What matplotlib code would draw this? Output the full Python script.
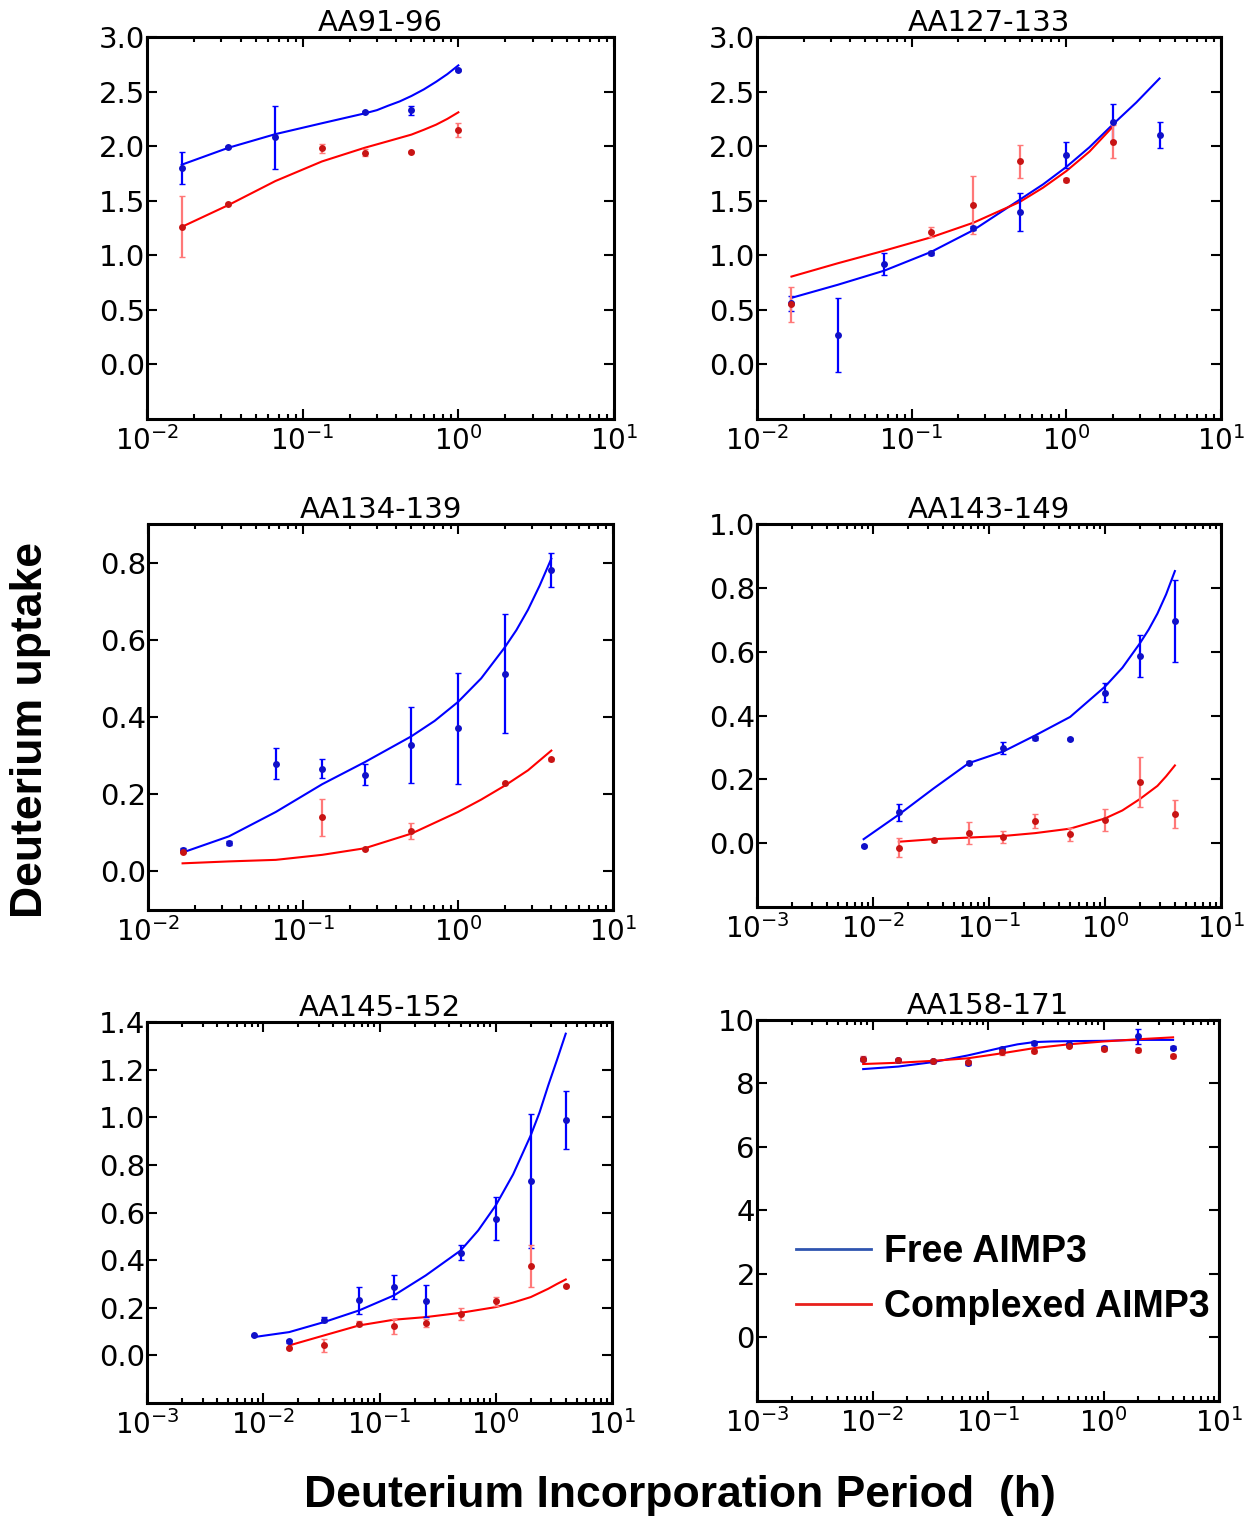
import matplotlib.pyplot as plt
from matplotlib.lines import Line2D

nan = float('nan')

# deuterium incorporation times (h): 0.5, 1, 2, 4, 8, 15, 30 min, 1, 2, 4 h
times = [0.0083, 0.0167, 0.0333, 0.0667, 0.133, 0.25, 0.5, 1.0, 2.0, 4.0]

# AA91-96
free_91 = [nan, 1.80, 1.99, 2.08, nan, 2.31, 2.33, 2.70, nan, nan]
free_91_err = [nan, 0.15, 0.01, 0.29, nan, 0.01, 0.04, 0.01, nan, nan]
cplx_91 = [nan, 1.26, 1.47, nan, 1.98, 1.94, 1.95, 2.15, nan, nan]
cplx_91_err = [nan, 0.28, 0.01, nan, 0.04, 0.03, 0.01, 0.065, nan, nan]
fit_t_free_91 = [0.0167, 0.0333, 0.0667, 0.133, 0.25, 0.30, 0.353, 0.42, 0.5, 0.6, 0.72, 0.85, 1.0]
fit_free_91 = [1.83, 1.985, 2.11, 2.21, 2.30, 2.33, 2.37, 2.41, 2.46, 2.52, 2.59, 2.66, 2.74]
fit_t_cplx_91 = [0.0167, 0.0333, 0.0667, 0.133, 0.25, 0.353, 0.5, 0.6, 0.72, 0.85, 1.0]
fit_cplx_91 = [1.26, 1.46, 1.68, 1.86, 1.985, 2.045, 2.106, 2.15, 2.197, 2.25, 2.31]

# AA127-133
free_127 = [nan, 0.56, 0.27, 0.92, 1.02, 1.25, 1.40, 1.92, 2.22, 2.10]
free_127_err = [nan, 0.07, 0.34, 0.10, 0.02, 0.02, 0.175, 0.12, 0.17, 0.12]
cplx_127 = [nan, 0.55, nan, nan, 1.21, 1.46, 1.86, 1.69, 2.04, nan]
cplx_127_err = [nan, 0.16, nan, nan, 0.045, 0.265, 0.155, 0.02, 0.15, nan]
fit_t_free_127 = [0.0167, 0.0333, 0.0667, 0.133, 0.25, 0.5, 0.707, 1.0, 1.41, 2.0, 2.83, 4.0]
fit_free_127 = [0.61, 0.73, 0.86, 1.03, 1.23, 1.51, 1.65, 1.81, 1.99, 2.20, 2.40, 2.62]
fit_t_cplx_127 = [0.0167, 0.0333, 0.0667, 0.133, 0.25, 0.5, 0.707, 1.0, 1.41, 2.0]
fit_cplx_127 = [0.805, 0.927, 1.043, 1.164, 1.298, 1.489, 1.62, 1.772, 1.95, 2.18]

# AA134-139
free_134 = [nan, 0.055, 0.074, 0.279, 0.266, 0.251, 0.327, 0.371, 0.512, 0.780]
free_134_err = [nan, 0.005, 0.005, 0.04, 0.025, 0.027, 0.099, 0.144, 0.154, 0.044]
cplx_134 = [nan, 0.051, nan, nan, 0.14, 0.058, 0.105, nan, 0.229, 0.29]
cplx_134_err = [nan, 0.003, nan, nan, 0.048, 0.003, 0.021, nan, 0.003, 0.003]
fit_t_free_134 = [0.0167, 0.0333, 0.0667, 0.133, 0.25, 0.5, 0.707, 1.0, 1.41, 2.0, 2.38, 2.83, 3.36, 4.0]
fit_free_134 = [0.049, 0.091, 0.154, 0.226, 0.283, 0.35, 0.39, 0.439, 0.50, 0.58, 0.625, 0.678, 0.74, 0.81]
fit_t_cplx_134 = [0.0167, 0.0333, 0.0667, 0.133, 0.25, 0.5, 1.0, 1.41, 2.0, 2.83, 4.0]
fit_cplx_134 = [0.021, 0.026, 0.030, 0.043, 0.06, 0.098, 0.154, 0.186, 0.222, 0.262, 0.313]

# AA143-149
free_143 = [-0.008, 0.097, nan, 0.252, 0.299, 0.33, 0.328, 0.472, 0.587, 0.697]
free_143_err = [0.003, 0.026, nan, 0.005, 0.02, 0.005, 0.003, 0.03, 0.067, 0.128]
cplx_143 = [nan, -0.014, 0.009, 0.032, 0.02, 0.07, 0.028, 0.074, 0.191, 0.093]
cplx_143_err = [nan, 0.03, 0.004, 0.035, 0.018, 0.021, 0.021, 0.034, 0.078, 0.044]
fit_t_free_143 = [0.0083, 0.0167, 0.0333, 0.0667, 0.133, 0.25, 0.5, 1.0, 1.41, 2.0, 2.38, 2.83, 3.36, 4.0]
fit_free_143 = [0.013, 0.09, 0.172, 0.251, 0.288, 0.338, 0.396, 0.491, 0.55, 0.627, 0.67, 0.72, 0.78, 0.853]
fit_t_cplx_143 = [0.0167, 0.0333, 0.0667, 0.133, 0.25, 0.5, 1.0, 1.41, 2.0, 2.83, 3.36, 4.0]
fit_cplx_143 = [0.005, 0.013, 0.018, 0.023, 0.032, 0.046, 0.078, 0.103, 0.139, 0.18, 0.21, 0.244]

# AA145-152
free_145 = [0.084, 0.059, 0.15, 0.231, 0.287, 0.228, 0.431, 0.574, 0.732, 0.987]
free_145_err = [0.003, 0.005, 0.01, 0.058, 0.051, 0.068, 0.032, 0.091, 0.28, 0.122]
cplx_145 = [nan, 0.032, 0.042, 0.133, 0.123, 0.137, 0.175, 0.227, 0.374, 0.29]
cplx_145_err = [nan, 0.004, 0.028, 0.01, 0.032, 0.018, 0.025, 0.018, 0.088, 0.004]
fit_t_free_145 = [0.0083, 0.0167, 0.0333, 0.0667, 0.133, 0.25, 0.5, 0.707, 1.0, 1.41, 2.0, 2.38, 2.83, 3.36, 4.0]
fit_free_145 = [0.077, 0.098, 0.14, 0.189, 0.252, 0.336, 0.441, 0.525, 0.63, 0.76, 0.924, 1.02, 1.134, 1.24, 1.351]
fit_t_cplx_145 = [0.0167, 0.0333, 0.0667, 0.133, 0.25, 0.5, 1.0, 1.41, 2.0, 2.83, 3.36, 4.0]
fit_cplx_145 = [0.042, 0.084, 0.126, 0.15, 0.161, 0.179, 0.203, 0.222, 0.245, 0.28, 0.30, 0.319]

# AA158-171
free_158 = [8.76, 8.73, 8.69, 8.64, 9.08, 9.27, 9.23, 9.13, 9.48, 9.13]
free_158_err = [0.05, 0.05, 0.05, 0.05, 0.08, 0.05, 0.05, 0.05, 0.24, 0.05]
cplx_158 = [8.77, 8.73, 8.70, 8.67, 8.98, 9.02, 9.19, 9.08, 9.05, 8.86]
cplx_158_err = [0.08, 0.05, 0.05, 0.05, 0.10, 0.05, 0.05, 0.05, 0.05, 0.05]
fit_t_free_158 = [0.0083, 0.0167, 0.0333, 0.0667, 0.133, 0.18, 0.25, 0.35, 0.5, 1.0, 2.0, 4.0]
fit_free_158 = [8.45, 8.53, 8.67, 8.88, 9.13, 9.23, 9.30, 9.32, 9.33, 9.34, 9.37, 9.37]
fit_t_cplx_158 = [0.0083, 0.0167, 0.0333, 0.0667, 0.133, 0.25, 0.5, 1.0, 2.0, 4.0]
fit_cplx_158 = [8.61, 8.65, 8.71, 8.79, 8.95, 9.11, 9.23, 9.32, 9.39, 9.45]

titles = ['AA91-96', 'AA127-133', 'AA134-139', 'AA143-149', 'AA145-152', 'AA158-171']
yticks_all = [
    [0.0, 0.5, 1.0, 1.5, 2.0, 2.5, 3.0],
    [0.0, 0.5, 1.0, 1.5, 2.0, 2.5, 3.0],
    [0.0, 0.2, 0.4, 0.6, 0.8],
    [0.0, 0.2, 0.4, 0.6, 0.8, 1.0],
    [0.0, 0.2, 0.4, 0.6, 0.8, 1.0, 1.2, 1.4],
    [0, 2, 4, 6, 8, 10],
]
ylims = [(-0.5, 3.0), (-0.5, 3.0), (-0.1, 0.9), (-0.2, 1.0), (-0.2, 1.4), (-2, 10)]
xlims = [(1e-2, 1e1), (1e-2, 1e1), (1e-2, 1e1), (1e-3, 1e1), (1e-3, 1e1), (1e-3, 1e1)]

panels = [
    (free_91, free_91_err, cplx_91, cplx_91_err, fit_t_free_91, fit_free_91, fit_t_cplx_91, fit_cplx_91),
    (free_127, free_127_err, cplx_127, cplx_127_err, fit_t_free_127, fit_free_127, fit_t_cplx_127, fit_cplx_127),
    (free_134, free_134_err, cplx_134, cplx_134_err, fit_t_free_134, fit_free_134, fit_t_cplx_134, fit_cplx_134),
    (free_143, free_143_err, cplx_143, cplx_143_err, fit_t_free_143, fit_free_143, fit_t_cplx_143, fit_cplx_143),
    (free_145, free_145_err, cplx_145, cplx_145_err, fit_t_free_145, fit_free_145, fit_t_cplx_145, fit_cplx_145),
    (free_158, free_158_err, cplx_158, cplx_158_err, fit_t_free_158, fit_free_158, fit_t_cplx_158, fit_cplx_158),
]

# axes rectangles in figure fractions (left, bottom, width, height)
rects = [
    (0.1167, 0.7238, 0.3706, 0.2518), (0.6008, 0.7238, 0.3683, 0.2518),
    (0.1175, 0.4001, 0.3690, 0.2545), (0.6008, 0.4020, 0.3683, 0.2525),
    (0.1167, 0.0751, 0.3690, 0.2512), (0.6008, 0.0765, 0.3667, 0.2512),
]

BLUE = '#0000ff'
RED = '#ff0000'


def drawPanel(ax, data, title, yticks, ylim, xlim):
    free, free_err, cplx, cplx_err, ft_free, f_free, ft_cplx, f_cplx = data
    ax.set_xscale('log')

    ax.errorbar(times, free, yerr=free_err, fmt='o', ms=5, color='#1010c8', mec='none',
                ecolor=BLUE, elinewidth=1.6, capsize=2, capthick=1, zorder=3)
    ax.errorbar(times, cplx, yerr=cplx_err, fmt='o', ms=5, color='#c81414', mec='none',
                ecolor='#ff7878', elinewidth=1.6, capsize=2, capthick=1, zorder=3)

    ax.plot(ft_free, f_free, color=BLUE, lw=1.5, zorder=2)
    ax.plot(ft_cplx, f_cplx, color=RED, lw=1.5, zorder=2)

    ax.set_xlim(*xlim)
    ax.set_ylim(*ylim)
    ax.set_yticks(yticks)
    ax.set_title(title, fontsize=21, pad=2)

    for s in ax.spines.values():
        s.set_linewidth(2.2)
    ax.tick_params(which='both', direction='in', top=True, right=True, width=1.5)
    ax.tick_params(which='major', length=7)
    ax.tick_params(which='minor', length=3.5)
    ax.tick_params(axis='x', labelsize=20, pad=5)
    ax.tick_params(axis='y', labelsize=21, pad=1.5)


fig = plt.figure(figsize=(12.6, 15.17), dpi=100)

axes = []
for i in range(6):
    ax = fig.add_axes(rects[i])
    drawPanel(ax, panels[i], titles[i], yticks_all[i], ylims[i], xlims[i])
    axes.append(ax)

handles = [Line2D([], [], color='#2f55b0', lw=2), Line2D([], [], color='#e8201c', lw=2)]
axes[5].legend(handles, ['Free AIMP3', 'Complexed AIMP3'], loc='center left',
               bbox_to_anchor=(0.085, 0.318), frameon=False, borderpad=0, borderaxespad=0,
               handlelength=2.0, handletextpad=0.35, labelspacing=0.5,
               prop={'family': 'Liberation Sans', 'weight': 'bold', 'size': 27})

fig.text(0.024, 0.519, 'Deuterium uptake', rotation=90, ha='center', va='center',
         family='Liberation Sans', weight='bold', fontsize=32)
fig.text(0.54, 0.0145, 'Deuterium Incorporation Period  (h)', ha='center', va='center',
         family='Liberation Sans', weight='bold', fontsize=32)

plt.savefig('out.png', dpi=100)
plt.close()
